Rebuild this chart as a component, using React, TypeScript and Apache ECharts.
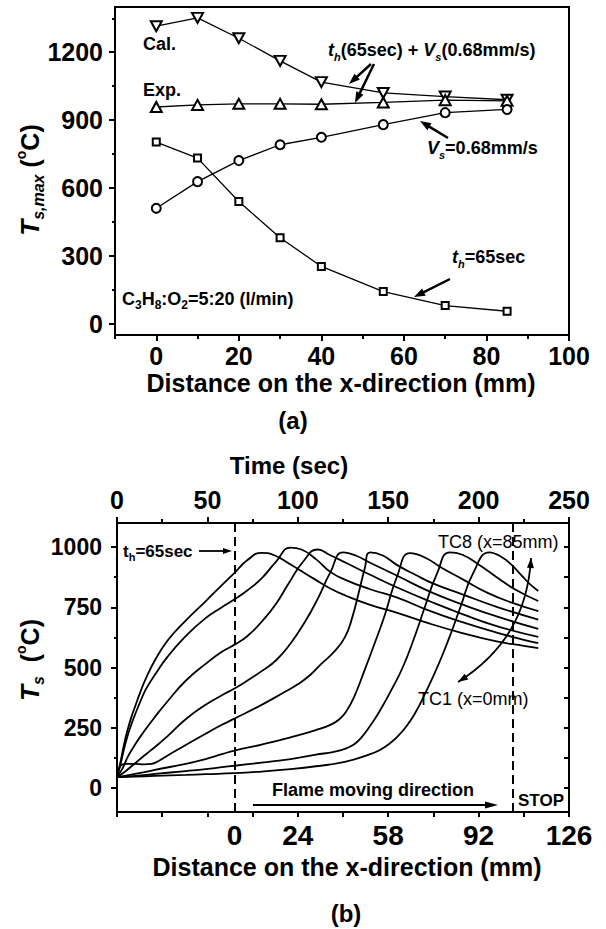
import React, { useEffect, useRef } from 'react';
import * as echarts from 'echarts';

// ---------- (a) data ----------
const distA = [0, 10, 20, 30, 40, 55, 70, 85];
const calA = [1315, 1352, 1262, 1162, 1068, 1020, 1004, 990];
const expA = [958, 967, 972, 972, 970, 978, 988, 985];
const vsA = [510, 628, 721, 791, 824, 880, 933, 947];
const thA = [803, 732, 540, 380, 253, 142, 80, 55];

const xTicksA = [0, 20, 40, 60, 80, 100];
const xMinorA = [-10, 10, 30, 50, 70, 90];
const yTicksA = [0, 300, 600, 900, 1200];
const yMinorA = [150, 450, 750, 1050, 1350];

// ---------- (b) data ----------
const timeTicksB = [0, 50, 100, 150, 200, 250];
const timeMinorB = [25, 75, 125, 175, 225];
const allTimeTicksB = [0, 25, 50, 75, 100, 125, 150, 175, 200, 225, 250];
const distTickTimesB = [65, 100, 150, 200, 250];
const distTickLabelsB = ['0', '24', '58', '92', '126'];
const yTicksB = [0, 250, 500, 750, 1000];
const yMinorB = [125, 375, 625, 875];
const yRightB = [0, 125, 250, 375, 500, 625, 750, 875, 1000];
const heatTime = 65;
const stopTime = 219;

const tc1 = [[0,45],[2,110],[4,185],[6,245],[8,295],[10,338],[13,400],[16,455],[21,530],[28,612],[38,695],[49,775],[58,842],[65,893],[72,945],[80,976],[87,966],[96,928],[109,868],[118,828],[126,800],[140,760],[155,727],[173,682],[191,643],[210,608],[225,590],[233,580]];
const tc2 = [[0,45],[2,100],[4,165],[6,220],[8,265],[10,305],[13,360],[16,410],[21,470],[28,545],[38,630],[49,705],[58,750],[65,783],[72,820],[80,870],[88,940],[96,998],[102,990],[110,950],[118,897],[126,865],[140,825],[155,790],[173,735],[191,688],[210,645],[225,615],[233,601]];
const tc3 = [[0,45],[3,80],[6,130],[10,180],[15,235],[21,295],[28,360],[38,445],[49,515],[58,565],[65,595],[72,630],[80,690],[88,765],[95,850],[103,940],[111,990],[118,966],[126,937],[140,885],[155,832],[173,775],[191,722],[210,672],[233,627]];
const tc4 = [[0,45],[4,65],[8,90],[12,115],[16,140],[21,170],[28,215],[38,285],[49,345],[58,385],[65,413],[72,445],[80,485],[88,530],[96,600],[104,690],[111,785],[118,895],[125,978],[132,965],[140,935],[155,881],[173,815],[191,762],[210,712],[233,660]];
const tc5 = [[0,45],[2,92],[5,100],[10,100],[15,98],[19,100],[23,112],[28,135],[38,178],[49,225],[58,262],[65,288],[80,345],[92,395],[100,430],[107,470],[113,515],[120,565],[126,625],[130,705],[134,820],[137,910],[140,978],[147,965],[155,925],[165,885],[175,848],[191,804],[210,752],[233,699]];
const tc6 = [[0,45],[10,58],[21,75],[38,100],[49,120],[58,140],[65,155],[80,180],[96,210],[110,240],[118,262],[123,285],[127,320],[131,375],[137,490],[142,590],[148,715],[155,880],[162,975],[170,958],[180,912],[191,867],[205,810],[220,765],[233,734]];
const tc7 = [[0,45],[10,50],[21,58],[38,70],[49,78],[58,86],[65,92],[80,105],[96,120],[110,138],[120,150],[126,162],[131,180],[135,208],[140,258],[145,315],[152,410],[158,500],[164,615],[170,745],[177,890],[184,978],[191,968],[200,928],[210,875],[220,825],[233,776]];
const tc8 = [[0,45],[10,47],[21,50],[38,54],[49,57],[65,61],[80,68],[96,78],[110,90],[126,108],[140,140],[146,160],[150,180],[155,212],[160,255],[165,312],[170,385],[175,465],[180,552],[185,648],[190,752],[197,892],[206,978],[212,962],[218,928],[224,880],[229,842],[233,818]];
const tcCurves = [tc1, tc2, tc3, tc4, tc5, tc6, tc7, tc8];

// ---------- styling helpers ----------
const FF = '"Liberation Sans", Arial, Helvetica, sans-serif';
const BLACK = '#000';

const LINE = { show: true, onZero: false, lineStyle: { color: BLACK, width: 2 } };
const NOLINE = { show: false, onZero: false };
const tick = (vals: number[], len: number, inside = false) => ({
  show: true, customValues: vals, length: len, inside, lineStyle: { color: BLACK, width: 2 },
});
const label = (vals: number[], size: number, margin: number, formatter?: any) => ({
  show: true, customValues: vals, fontSize: size, fontWeight: 'bold', fontFamily: FF, color: BLACK, margin,
  formatter: formatter || ((v: number) => String(v)),
});
const NOLABEL = { show: false };
const NOSPLIT = { show: false };

const tok = (size: number, opts: any = {}) => ({
  fontFamily: FF, fontWeight: 'bold', fontSize: size, lineHeight: size + 6, fill: BLACK, ...opts,
});
const sub = (size: number, italic = false) => ({
  fontFamily: FF, fontWeight: 'bold', fontStyle: italic ? 'italic' : 'normal', fontSize: size,
  lineHeight: size, verticalAlign: 'bottom', fill: BLACK,
});
const sup = (size: number) => ({
  fontFamily: FF, fontWeight: 'bold', fontSize: size, lineHeight: size, verticalAlign: 'top', fill: BLACK,
});

function txt(x: number, y: number, text: string, rich: any, align = 'left', extra: any = {}) {
  return {
    type: 'text', x, y, silent: true, ...extra,
    style: { text, rich, fill: BLACK, align, verticalAlign: 'middle', fontFamily: FF },
  };
}
function plain(x: number, y: number, text: string, size: number, weight = 'bold', align = 'center') {
  return {
    type: 'text', x, y, silent: true,
    style: { text, fill: BLACK, align, verticalAlign: 'middle', fontFamily: FF, fontSize: size, fontWeight: weight },
  };
}
function head(x2: number, y2: number, ang: number, len: number, w: number) {
  const bx = x2 - len * Math.cos(ang), by = y2 - len * Math.sin(ang);
  const px = -Math.sin(ang) * w / 2, py = Math.cos(ang) * w / 2;
  return { type: 'polygon', silent: true, shape: { points: [[x2, y2], [bx + px, by + py], [bx - px, by - py]] }, style: { fill: BLACK } };
}
function arrow(x1: number, y1: number, x2: number, y2: number, len = 10, w = 7, lw = 2) {
  const ang = Math.atan2(y2 - y1, x2 - x1);
  const bx = x2 - len * 0.8 * Math.cos(ang), by = y2 - len * 0.8 * Math.sin(ang);
  return [
    { type: 'line', silent: true, shape: { x1, y1, x2: bx, y2: by }, style: { stroke: BLACK, lineWidth: lw } },
    head(x2, y2, ang, len, w),
  ];
}

function buildOption() {
  const lineA = (name: string, data: number[], symbol: string, size: any, rotate = 0) => ({
    name, type: 'line', xAxisIndex: 0, yAxisIndex: 0,
    data: distA.map((d, i) => [d, data[i]]),
    symbol, symbolSize: size, symbolRotate: rotate, showSymbol: true,
    lineStyle: { color: BLACK, width: 1.3 },
    itemStyle: { color: '#fff', borderColor: BLACK, borderWidth: 2 },
    z: 3,
  });

  const seriesB = tcCurves.map((c, i) => {
    const s: any = {
      name: 'TC' + (i + 1), type: 'line', xAxisIndex: 3, yAxisIndex: 2,
      data: c, symbol: 'none', smooth: 0.5,
      lineStyle: { color: BLACK, width: 1.8 },
    };
    if (i === 0) {
      s.markLine = {
        silent: true, symbol: 'none', label: { show: false },
        lineStyle: { type: [9, 5], color: BLACK, width: 2 },
        data: [{ xAxis: heatTime }, { xAxis: stopTime }],
      };
    }
    return s;
  });

  const richA = {
    i: tok(18, { fontStyle: 'italic' }),
    si: sub(11, true),
    b: tok(18),
    s: sub(12),
  };

  const yTitleA = txt(30, 180, '{T|T}{s|s,max}{n| (}{o|o}{n|C)}', {
    T: tok(26, { fontStyle: 'italic', lineHeight: 32 }),
    s: sub(16, true),
    n: tok(25, { lineHeight: 32 }),
    o: sup(14),
  }, 'center', { rotation: Math.PI / 2 });

  const yTitleB = txt(30, 660, '{T|T}{s|s}{n|  (}{o|o}{n|C)}', {
    T: tok(26, { fontStyle: 'italic', lineHeight: 32 }),
    s: sub(16, true),
    n: tok(25, { lineHeight: 32 }),
    o: sup(14),
  }, 'center', { rotation: Math.PI / 2 });

  // curved double arrow TC8 / TC1
  const bz = { x1: 531, y1: 558, cpx1: 528, cpy1: 612, cpx2: 505, cpy2: 652, x2: 458, y2: 682 };
  const angStart = Math.atan2(bz.y1 - bz.cpy1, bz.x1 - bz.cpx1);
  const angEnd = Math.atan2(bz.y2 - bz.cpy2, bz.x2 - bz.cpx2);

  const graphics: any[] = [
    // (a) texts
    txt(143, 44, '{b|Cal.}', richA),
    txt(143, 90, '{b|Exp.}', richA),
    txt(328, 50, '{i|t}{si|h}{b|(65sec) + }{i|V}{si|s}{b|(0.68mm/s)}', richA),
    txt(427, 148, '{i|V}{si|s}{b|=0.68mm/s}', richA),
    txt(452, 257, '{i|t}{si|h}{b|=65sec}', richA),
    txt(122, 299, '{b|C}{s|3}{b|H}{s|8}{b|:O}{s|2}{b|=5:20 (l/min)}', richA),
    ...arrow(371, 64, 349, 84, 11, 8, 2.5),
    ...arrow(374, 64, 355, 103, 11, 8, 2.5),
    ...arrow(448, 138, 420, 121, 11, 8, 2.5),
    ...arrow(450, 279, 414, 297, 11, 8, 2.5),
    plain(341, 383, 'Distance on the x-direction (mm)', 25),
    plain(293, 420, '(a)', 24),
    yTitleA,
    // (b) texts
    plain(289, 465, 'Time (sec)', 24),
    plain(347, 867, 'Distance on the x-direction (mm)', 25),
    plain(346, 913, '(b)', 24),
    yTitleB,
    txt(123, 551, '{b|t}{s|h}{b|=65sec}', { b: tok(17), s: sub(11) }),
    ...arrow(199, 551, 232, 551, 9, 6, 1.8),
    plain(438, 541.5, 'TC8 (x=85mm)', 18, 'normal', 'left'),
    plain(418, 698.5, 'TC1 (x=0mm)', 18, 'normal', 'left'),
    plain(272, 790, 'Flame moving direction', 18, 'bold', 'left'),
    ...arrow(253, 805, 498, 805, 13, 7, 2),
    plain(518, 800, 'STOP', 17, 'bold', 'left'),
    { type: 'bezierCurve', silent: true, shape: bz, style: { stroke: BLACK, lineWidth: 1.8, fill: 'none' } },
    head(bz.x1, bz.y1, angStart, 10, 7),
    head(bz.x2, bz.y2, angEnd, 10, 7),
  ];

  return {
    animation: false,
    backgroundColor: '#fff',
    grid: [
      { left: 115, top: 7, width: 454, height: 328, show: true, borderColor: BLACK, borderWidth: 2, backgroundColor: 'transparent' },
      { left: 117, top: 523, width: 452, height: 289, show: false },
    ],
    xAxis: [
      { gridIndex: 0, type: 'value', min: -10, max: 100, position: 'bottom', axisLine: LINE, axisTick: tick(xTicksA, 6), axisLabel: label(xTicksA, 25, 8), splitLine: NOSPLIT },
      { gridIndex: 0, type: 'value', min: -10, max: 100, position: 'bottom', axisLine: NOLINE, axisTick: tick(xMinorA, 4), axisLabel: NOLABEL, splitLine: NOSPLIT },
      {
        gridIndex: 1, type: 'value', min: 0, max: 250, position: 'bottom', axisLine: LINE, axisTick: tick(allTimeTicksB, 5),
        axisLabel: label(distTickTimesB, 28, 9, (v: number) => {
          const i = distTickTimesB.findIndex((t) => Math.abs(t - v) < 1e-6);
          return i >= 0 ? distTickLabelsB[i] : '';
        }),
        splitLine: NOSPLIT,
      },
      { gridIndex: 1, type: 'value', min: 0, max: 250, position: 'top', axisLine: LINE, axisTick: tick(timeTicksB, 6), axisLabel: label(timeTicksB, 25, 11), splitLine: NOSPLIT },
      { gridIndex: 1, type: 'value', min: 0, max: 250, position: 'top', axisLine: NOLINE, axisTick: tick(timeMinorB, 4), axisLabel: NOLABEL, splitLine: NOSPLIT },
    ],
    yAxis: [
      { gridIndex: 0, type: 'value', min: -50, max: 1400, position: 'left', axisLine: LINE, axisTick: tick(yTicksA, 6), axisLabel: label(yTicksA, 25, 12), splitLine: NOSPLIT },
      { gridIndex: 0, type: 'value', min: -50, max: 1400, position: 'left', axisLine: NOLINE, axisTick: tick(yMinorA, 3), axisLabel: NOLABEL, splitLine: NOSPLIT },
      { gridIndex: 1, type: 'value', min: -100, max: 1100, position: 'left', axisLine: LINE, axisTick: tick(yTicksB, 6), axisLabel: label(yTicksB, 23, 15), splitLine: NOSPLIT },
      { gridIndex: 1, type: 'value', min: -100, max: 1100, position: 'left', axisLine: NOLINE, axisTick: tick(yMinorB, 3), axisLabel: NOLABEL, splitLine: NOSPLIT },
      { gridIndex: 1, type: 'value', min: -100, max: 1100, position: 'right', axisLine: LINE, axisTick: tick(yRightB, 5, true), axisLabel: NOLABEL, splitLine: NOSPLIT },
    ],
    series: [
      lineA('Cal.', calA, 'triangle', [11, 10], 180),
      lineA('Exp.', expA, 'triangle', [11, 10]),
      lineA('Vs=0.68mm/s', vsA, 'circle', 9),
      lineA('th=65sec', thA, 'rect', 7),
      ...seriesB,
    ],
    graphic: graphics,
  };
}

export default function App() {
  const ref = useRef<HTMLDivElement>(null);
  useEffect(() => {
    if (!ref.current) return;
    const chart = echarts.init(ref.current, null, { renderer: 'svg' });
    chart.setOption(buildOption() as any);
    return () => chart.dispose();
  }, []);
  return (
    <div
      ref={ref}
      style={{ position: 'absolute', left: 0, top: 0, width: 606, height: 929, background: '#fff' }}
    />
  );
}
